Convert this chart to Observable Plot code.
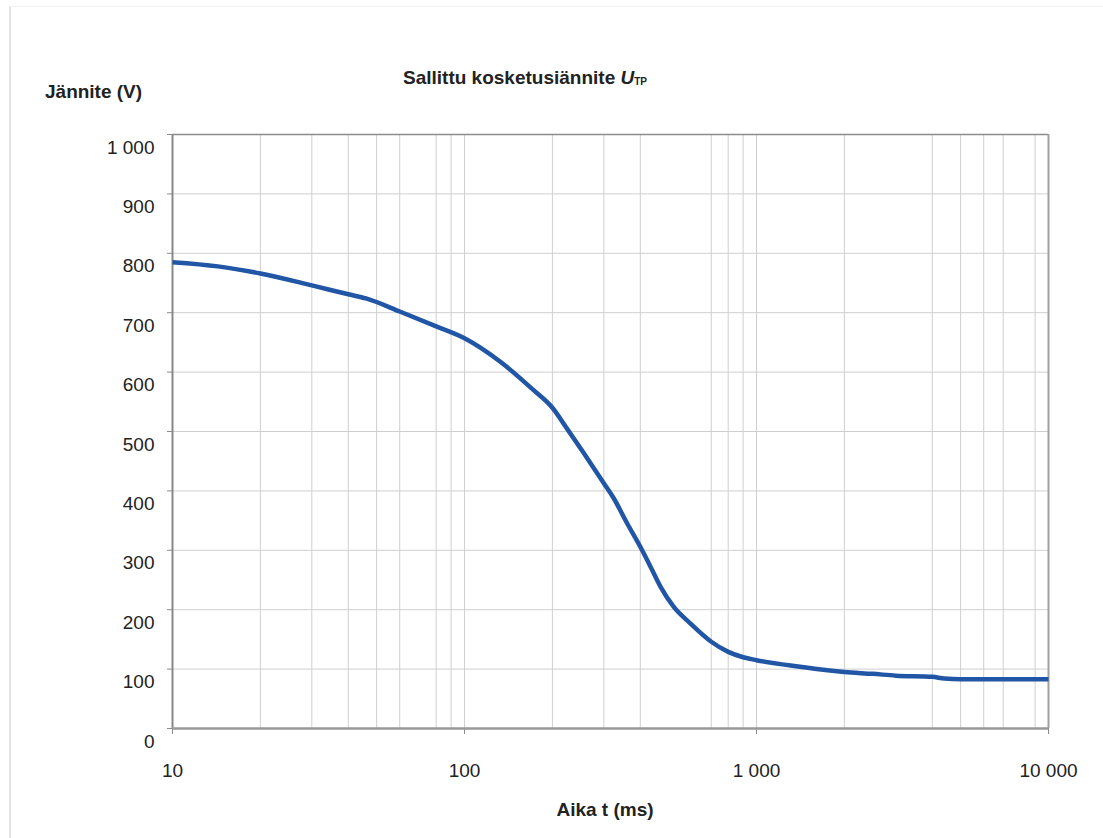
<!DOCTYPE html>
<html>
<head>
<meta charset="utf-8">
<script src="https://cdn.jsdelivr.net/npm/d3@7"></script>
<script src="https://cdn.jsdelivr.net/npm/@observablehq/plot@0.6"></script>
<style>
  html, body { margin: 0; padding: 0; background: #fff; }
  #wrap { position: relative; width: 1103px; height: 838px; overflow: hidden; font-family: "Liberation Sans", Arial, Helvetica, sans-serif; color: #222; }
  #border { position: absolute; left: 9px; top: 6px; right: 0; bottom: 0; border-left: 2px solid #e4e4e4; border-top: 1px solid #f2f2f2; }
  .lbl { position: absolute; font-weight: bold; font-size: 19px; line-height: 19px; white-space: nowrap; }
  #ylab { left: 45px; top: 82px; }
  #title { left: 403px; top: 68px; }
  #title sub { font-size: 10px; vertical-align: baseline; position: relative; top: 1px; }
  #xlab { left: 455px; top: 800px; width: 300px; text-align: center; }
  svg { position: absolute; left: 0; top: 0; }
</style>
</head>
<body>
<div id="wrap">
  <div id="border"></div>
  <div id="chart"></div>
  <div class="lbl" id="ylab">Jännite (V)</div>
  <div class="lbl" id="title">Sallittu kosketusiännite <i>U</i><sub>TP</sub></div>
  <div class="lbl" id="xlab">Aika t (ms)</div>
</div>
<script>
// Curve: permissible touch voltage U_TP vs time
const timeMs  = [10, 14.3, 20, 30, 40, 46, 60, 80, 100, 133, 172, 200, 225, 255, 300, 324, 360, 400, 434, 470, 520, 593, 700, 800, 900, 1000, 1410, 2000, 2500, 3000, 4000, 4400, 5000, 10000];
const voltage = [785, 778, 766, 746, 731, 724, 702, 677, 657, 617, 570, 540, 504, 465, 413, 388, 346, 306, 272, 238, 205, 177, 146, 129, 120, 115, 104, 95, 92, 89, 87, 84, 83, 83];

// Axis ticks and gridlines as drawn in the reference
const xTicks = [10, 100, 1000, 10000];
const xGrid  = [20, 30, 40, 50, 60, 80, 90, 100, 200, 300, 400, 700, 800, 900, 1000, 2000, 4000, 5000, 6000, 7000, 9000];
const yTicks = [0, 100, 200, 300, 400, 500, 600, 700, 800, 900, 1000];
const yGrid  = [100, 200, 300, 400, 500, 600, 700, 800, 900];

const data = timeMs.map((t, i) => ({t, v: voltage[i]}));
const fmt = d => d3.format(",")(d).replace(/,/g, " ");

const chart = Plot.plot({
  width: 1103,
  height: 838,
  marginLeft: 172,
  marginRight: 55,
  marginTop: 134,
  marginBottom: 110,
  style: {background: "transparent", fontFamily: "'Liberation Sans', Arial, Helvetica, sans-serif", color: "#222"},
  x: {type: "log", domain: [10, 10000]},
  y: {domain: [0, 1000]},
  marks: [
    Plot.ruleX(xGrid, {stroke: "#cfcfcf", strokeWidth: 1}),
    Plot.ruleY(yGrid, {stroke: "#cfcfcf", strokeWidth: 1}),
    Plot.ruleY([1000], {stroke: "#8c8c8c", strokeWidth: 1.5}),
    Plot.ruleX([10000], {stroke: "#a0a0a0", strokeWidth: 2}),
    Plot.axisY({ticks: yTicks, tickSize: 5, tickFormat: () => "", label: null, stroke: "#8c8c8c"}),
    Plot.axisY({ticks: yTicks, tickSize: 0, tickPadding: 18, dy: 13, tickFormat: fmt, label: null, fontSize: 19, fill: "#222"}),
    Plot.axisX({ticks: xTicks, tickSize: 6, tickPadding: 29, tickFormat: fmt, label: null, fontSize: 19, fill: "#222", stroke: "#8c8c8c"}),
    Plot.ruleX([10], {stroke: "#888", strokeWidth: 2}),
    Plot.ruleY([0], {stroke: "#999", strokeWidth: 2.5}),
    Plot.line(data, {x: "t", y: "v", stroke: "#2156a6", strokeWidth: 4.5, curve: "monotone-x", strokeLinejoin: "round", strokeLinecap: "butt"})
  ]
});
document.getElementById("chart").appendChild(chart);
</script>
</body>
</html>
